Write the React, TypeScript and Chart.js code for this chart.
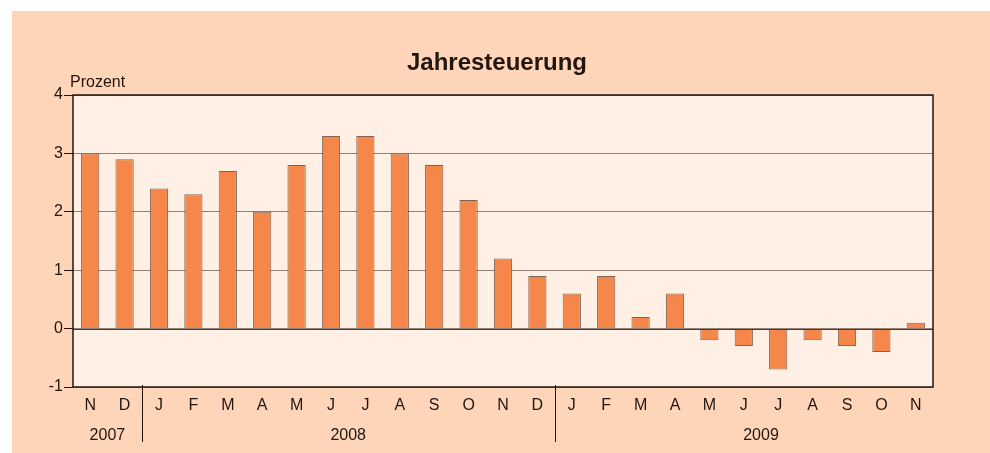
import React, { useEffect, useRef } from "react";
import { Chart, registerables } from "chart.js";

Chart.register(...registerables);

const months = ["N", "D", "J", "F", "M", "A", "M", "J", "J", "A", "S", "O", "N", "D", "J", "F", "M", "A", "M", "J", "J", "A", "S", "O", "N"];
const inflation = [3.0, 2.9, 2.4, 2.3, 2.7, 2.0, 2.8, 3.3, 3.3, 3.0, 2.8, 2.2, 1.2, 0.9, 0.6, 0.9, 0.2, 0.6, -0.2, -0.3, -0.7, -0.2, -0.3, -0.4, 0.1];
const yearLabels = ["2007", "2008", "2009"];
const yearStart = [0, 2, 14];
const yearMonths = [2, 12, 12];
const yTicks = [-1, 0, 1, 2, 3, 4];

const FONT = "'Liberation Sans', Arial, sans-serif";
const PEACH = "#fed5b9";
const PLOT_BG = "#fff0e6";
const BAR = "#f5874a";
const TEXT = "#22160f";

const decorPlugin = {
  id: "decor",
  beforeDraw(chart: any) {
    const { ctx, chartArea: a, width, height } = chart;
    ctx.save();
    ctx.fillStyle = PEACH;
    ctx.fillRect(12, 11, width - 12, height - 11);
    ctx.fillStyle = PLOT_BG;
    ctx.fillRect(a.left, a.top, a.right - a.left, a.bottom - a.top);
    // title
    ctx.fillStyle = TEXT;
    ctx.font = `bold 24px ${FONT}`;
    ctx.textAlign = "center";
    ctx.textBaseline = "alphabetic";
    ctx.fillText("Jahresteuerung", 497, 70);
    ctx.font = `16px ${FONT}`;
    ctx.textAlign = "left";
    ctx.fillText("Prozent", 70, 87);
    ctx.restore();
  },
  afterDatasetsDraw(chart: any) {
    const { ctx, chartArea: a, scales } = chart;
    const x = scales.x;
    const y = scales.y;
    ctx.save();
    // zero line
    const y0 = Math.round(y.getPixelForValue(0)) + 0.5;
    ctx.strokeStyle = "#4a3a30";
    ctx.lineWidth = 1;
    ctx.beginPath();
    ctx.moveTo(a.left, y0);
    ctx.lineTo(a.right, y0);
    ctx.stroke();
    // frame
    ctx.strokeStyle = "#22160f";
    ctx.lineWidth = 1.5;
    ctx.strokeRect(a.left, a.top, a.right - a.left, a.bottom - a.top);
    // year separators and labels
    ctx.strokeStyle = "#22160f";
    ctx.lineWidth = 1;
    ctx.fillStyle = TEXT;
    ctx.font = `16px ${FONT}`;
    ctx.textAlign = "center";
    ctx.textBaseline = "middle";
    for (let i = 0; i < yearLabels.length; i++) {
      const s = yearStart[i];
      if (i > 0) {
        const px = Math.round(x.getPixelForValue(s - 0.5)) + 0.5;
        ctx.beginPath();
        ctx.moveTo(px, a.bottom - 2);
        ctx.lineTo(px, a.bottom + 55);
        ctx.stroke();
      }
      const c = x.getPixelForValue(s + (yearMonths[i] - 1) / 2);
      ctx.fillText(yearLabels[i], c, 436);
    }
    ctx.restore();
  },
};

export default function App() {
  const ref = useRef<HTMLCanvasElement>(null);
  useEffect(() => {
    if (!ref.current) return;
    const chart = new Chart(ref.current, {
      type: "bar",
      data: {
        labels: months,
        datasets: [
          {
            data: inflation,
            backgroundColor: BAR,
            borderColor: "rgba(95,65,48,0.8)",
            borderWidth: 1,
            barPercentage: 0.53,
            categoryPercentage: 1,
          },
        ],
      },
      options: {
        responsive: false,
        animation: false,
        layout: { padding: { left: 0, top: 95, right: 57, bottom: 0 } },
        plugins: { legend: { display: false }, tooltip: { enabled: false }, title: { display: false } },
        scales: {
          x: {
            grid: { display: false, drawTicks: false },
            border: { display: false },
            ticks: { color: TEXT, font: { family: FONT, size: 16 }, padding: 9, maxRotation: 0, autoSkip: false },
            afterFit: (s: any) => {
              s.height = 66;
            },
          },
          y: {
            min: -1,
            max: 4,
            afterBuildTicks: (s: any) => {
              s.ticks = yTicks.map((v) => ({ value: v }));
            },
            grid: {
              color: "rgba(100,80,70,0.7)",
              tickColor: "#22160f",
              tickLength: 9,
              lineWidth: 1,
            },
            border: { display: false },
            ticks: { color: TEXT, font: { family: FONT, size: 16 }, padding: 1 },
            afterFit: (s: any) => {
              s.width = 73;
            },
          },
        },
      },
      plugins: [decorPlugin],
    });
    return () => chart.destroy();
  }, []);
  return (
    <div style={{ position: "absolute", left: 0, top: 0, width: 990, height: 453 }}>
      <canvas ref={ref} width={990} height={453} style={{ display: "block" }} />
    </div>
  );
}
